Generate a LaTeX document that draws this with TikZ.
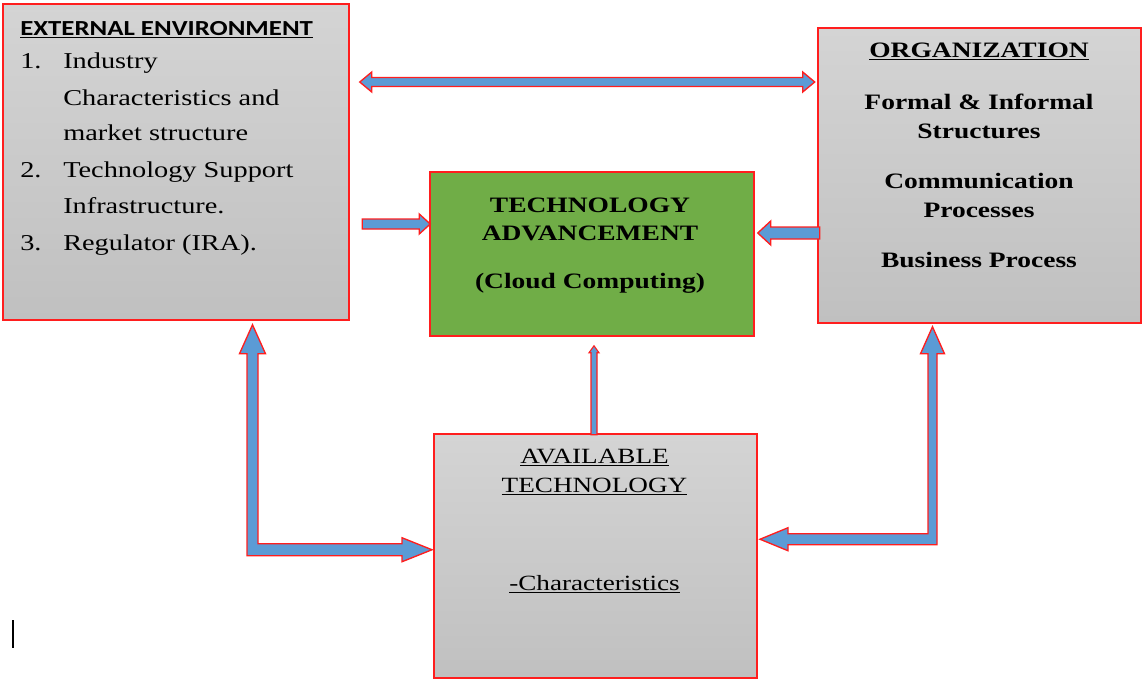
\documentclass[tikz,border=0pt]{standalone}
\usepackage{fontspec}
\setmainfont[FakeStretch=1.25]{Liberation Serif}
\newfontfamily\calfont[FakeStretch=1.25]{Carlito}
\usetikzlibrary{calc}
\definecolor{boxred}{RGB}{255,30,30}
\definecolor{boxtop}{RGB}{212,212,212}
\definecolor{boxbot}{RGB}{192,192,192}
\definecolor{techgreen}{RGB}{112,173,71}
\definecolor{arrowblue}{RGB}{91,155,213}

\begin{document}
\begin{tikzpicture}[x=0.75pt, y=-0.75pt,
    greybox/.style={rectangle, draw=boxred, line width=1.1pt, top color=boxtop, bottom color=boxbot, inner sep=0pt},
    greenbox/.style={rectangle, draw=boxred, line width=1.1pt, fill=techgreen, inner sep=0pt},
    blockarr/.style={draw=boxred, line width=1pt, fill=arrowblue, line join=miter},
    headtxt/.style={inner sep=0pt, anchor=base west, font=\calfont\bfseries\fontsize{16.1}{18}\selectfont},
    listtxt/.style={inner sep=0pt, anchor=base west, font=\fontsize{17}{20}\selectfont},
    boldtxt/.style={inner sep=0pt, anchor=base, font=\bfseries\fontsize{16.5}{19}\selectfont},
    plaintxt/.style={inner sep=0pt, anchor=base, font=\fontsize{16.3}{19}\selectfont}
]
\useasboundingbox (0,0) rectangle (1143,679);

% External environment
\node[greybox, minimum width=259.5pt, minimum height=237pt] (ext) at (176,162) {};
\node[headtxt] (exth) at (20,35) {\underline{EXTERNAL ENVIRONMENT}};
\node[listtxt] (n1) at (20,68) {1.};
\node[listtxt] (e1a) at (63,68) {Industry};
\node[listtxt] (e1b) at (63,105) {Characteristics and};
\node[listtxt] (e1c) at (63,140) {market structure};
\node[listtxt] (n2) at (20,177) {2.};
\node[listtxt] (e2a) at (63,177) {Technology Support};
\node[listtxt] (e2b) at (63,213) {Infrastructure.};
\node[listtxt] (n3) at (20,250) {3.};
\node[listtxt] (e3a) at (63,250) {Regulator (IRA).};

% Organization
\node[greybox, minimum width=242.25pt, minimum height=221.25pt] (org) at (979.5,175.5) {};
\node[boldtxt] (orgh) at (979,57) {\underline{ORGANIZATION}};
\node[boldtxt] (o1a) at (979,109) {Formal \& Informal};
\node[boldtxt] (o1b) at (979,138) {Structures};
\node[boldtxt] (o2a) at (979,188) {Communication};
\node[boldtxt] (o2b) at (979,217) {Processes};
\node[boldtxt] (o3) at (979,267) {Business Process};

% Technology advancement
\node[greenbox, minimum width=243pt, minimum height=123pt] (tech) at (592,254) {};
\node[boldtxt] (t1) at (590,212) {TECHNOLOGY};
\node[boldtxt] (t2) at (590,240) {ADVANCEMENT};
\node[boldtxt] (t3) at (590,288) {(Cloud Computing)};

% Available technology
\node[greybox, minimum width=242.25pt, minimum height=183pt] (avail) at (595.5,556) {};
\node[plaintxt] (a1) at (594.5,463) {\underline{AVAILABLE}};
\node[plaintxt] (a2) at (594.5,492) {\underline{TECHNOLOGY}};
\node[plaintxt] (a3) at (594.5,590) {\underline{-Characteristics}};

% Arrow tips
\coordinate (hl) at ([xshift=7.5pt]ext.east |- 0,82);
\coordinate (et) at ([xshift=0.75pt]tech.west |- 0,224);
\coordinate (ot) at ([xshift=2.25pt]tech.east |- 0,233);
\coordinate (at) at ([yshift=-6.75pt]tech.south -| 594,0);
\coordinate (lt) at ([yshift=-3pt]ext.south -| 252.5,0);
\coordinate (rt) at ([yshift=-2.25pt]org.south -| 932.5,0);

% Block arrows
\draw[blockarr] (hl) -- ++(12,-10) -- ++(0,5.5) -- ++(431,0) -- ++(0,-5.5) -- ++(12,10)
    -- ++(-12,10) -- ++(0,-5.5) -- ++(-431,0) -- ++(0,5.5) -- cycle;
\draw[blockarr] (et) -- ++(-11,-10) -- ++(0,5) -- ++(-57,0) -- ++(0,10) -- ++(57,0) -- ++(0,5) -- cycle;
\draw[blockarr] (ot) -- ++(13,-12) -- ++(0,6) -- ++(49,0) -- ++(0,12) -- ++(-49,0) -- ++(0,6) -- cycle;
\draw[blockarr, line width=0.8pt] (at) -- ++(5,7) -- ++(-2,0) -- ++(0,82) -- ++(-6,0) -- ++(0,-82) -- ++(-2,0) -- cycle;
\draw[blockarr] (lt) -- ++(13,29) -- ++(-7.5,0) -- ++(0,190) -- ++(144,0) -- ++(0,-6) -- ++(30,12)
    -- ++(-30,12) -- ++(0,-6) -- ++(-155,0) -- ++(0,-202) -- ++(-7.5,0) -- cycle;
\draw[blockarr] (rt) -- ++(12,27) -- ++(-7.5,0) -- ++(0,191) -- ++(-149,0) -- ++(0,6) -- ++(-28,-11.5)
    -- ++(28,-11.5) -- ++(0,6) -- ++(140,0) -- ++(0,-180) -- ++(-7.5,0) -- cycle;

% cursor
\draw[line width=1pt] (13,620) -- (13,648);
\end{tikzpicture}
\end{document}
